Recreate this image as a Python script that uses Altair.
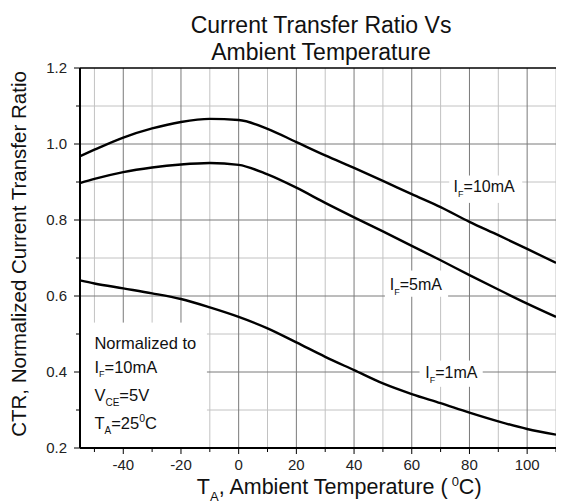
import altair as alt
import pandas as pd

FONT = "Liberation Sans"

# ---- data ----
temps = [-55, -50, -40, -30, -20, -10, 0, 10, 20, 30, 40, 50, 60, 70, 80, 90, 100, 110]
ctr_10mA = [0.968, 0.985, 1.017, 1.041, 1.058, 1.066, 1.063, 1.040, 1.005, 0.970, 0.937, 0.903,
            0.868, 0.834, 0.795, 0.760, 0.724, 0.687]
ctr_5mA = [0.897, 0.908, 0.926, 0.938, 0.946, 0.950, 0.945, 0.920, 0.885, 0.845, 0.807, 0.770,
           0.732, 0.694, 0.655, 0.617, 0.580, 0.545]
ctr_1mA = [0.641, 0.633, 0.620, 0.607, 0.592, 0.570, 0.545, 0.515, 0.478, 0.440, 0.405, 0.370,
           0.342, 0.318, 0.293, 0.270, 0.250, 0.235]

x_domain = [-55, 110]
y_domain = [0.2, 1.2]
x_minor = [-50, -30, -10, 10, 30, 50, 70, 90, 110]
x_major = [-40, -20, 0, 20, 40, 60, 80, 100]
y_minor = [0.3, 0.5, 0.7, 0.9, 1.1]
y_major = [0.4, 0.6, 0.8, 1.0]
x_labels = ["-40", "-20", "0", "20", "40", "60", "80", "100"]
y_label_values = [0.2, 0.4, 0.6, 0.8, 1.0, 1.2]
y_labels = ["0.2", "0.4", "0.6", "0.8", "1.0", "1.2"]

# curve labels (I_F = ...)
curve_label_text = ["=10mA", "=5mA", "=1mA"]
curve_label_T = [74.5, 52.4, 64.7]
curve_label_v = [0.873, 0.617, 0.383]
# clear areas (gridlines are interrupted there) behind labels and the note block
box_T1 = [73.0, 50.7, 62.7, -55.0]
box_T2 = [98.3, 72.6, 84.6, -11.0]
box_v1 = [0.845, 0.598, 0.361, 0.2]
box_v2 = [0.917, 0.667, 0.430, 0.53]

# note block
note_T = -50.0
note_v = [0.461, 0.398, 0.325, 0.251]

WIDTH, HEIGHT = 476, 380
PX_T = (x_domain[1] - x_domain[0]) / WIDTH     # data units per pixel (x)
PX_V = (y_domain[1] - y_domain[0]) / HEIGHT    # data units per pixel (y)

xs = alt.Scale(domain=x_domain, nice=False, zero=False)
ys = alt.Scale(domain=y_domain, nice=False, zero=False)


def X(field):
    return alt.X(field, scale=xs, axis=None)


def Y(field):
    return alt.Y(field, scale=ys, axis=None)


W = {' ': 0.278, ',': 0.278, '(': 0.333, ')': 0.333, '=': 0.584, '0': 0.556, '1': 0.556,
     '2': 0.556, '5': 0.556, 'A': 0.667, 'C': 0.722, 'E': 0.667, 'F': 0.611, 'I': 0.278,
     'T': 0.611, 'V': 0.667, 'N': 0.722, 'm': 0.833, 'a': 0.556, 'b': 0.556, 'i': 0.222,
     'e': 0.556, 'n': 0.556, 't': 0.278, 'p': 0.556, 'r': 0.333, 'u': 0.556, 'o': 0.556,
     'l': 0.222, 'z': 0.5, 'd': 0.556}


def tw(s, size):
    return sum(W.get(c, 0.556) for c in s) * size


def rich(xv, yv, parts, color="#111"):
    layers = []
    off = 0.0
    for text, size, dy in parts:
        df = pd.DataFrame({"T": [xv], "v": [yv], "t": [text]})
        layers.append(
            alt.Chart(df).mark_text(align="left", baseline="alphabetic", fontSize=size,
                                    dx=off, dy=dy, font=FONT, color=color)
            .encode(x=X("T:Q"), y=Y("v:Q"), text="t:N")
        )
        off += tw(text, size)
    return layers


cut_boxes = list(zip(box_T1, box_T2, box_v1, box_v2))


def cut(segs, lo, hi):
    out = []
    for a, b in segs:
        if b <= lo or a >= hi:
            out.append((a, b))
        else:
            if a < lo:
                out.append((a, lo))
            if b > hi:
                out.append((hi, b))
    return out


def vgrid(vals, color):
    rows = []
    for t in vals:
        segs = [(y_domain[0], y_domain[1])]
        for t1, t2, b1, b2 in cut_boxes:
            if t1 <= t <= t2:
                segs = cut(segs, b1, b2)
        rows += [{"T": t, "v": a, "v2": b} for a, b in segs]
    return alt.Chart(pd.DataFrame(rows)).mark_rule(color=color, strokeWidth=1).encode(
        x=X("T:Q"), y=Y("v:Q"), y2="v2:Q")


def hgrid(vals, color):
    rows = []
    for v in vals:
        segs = [(x_domain[0], x_domain[1])]
        for t1, t2, b1, b2 in cut_boxes:
            if b1 <= v <= b2:
                segs = cut(segs, t1, t2)
        rows += [{"v": v, "T": a, "T2": b} for a, b in segs]
    return alt.Chart(pd.DataFrame(rows)).mark_rule(color=color, strokeWidth=1).encode(
        y=Y("v:Q"), x=X("T:Q"), x2="T2:Q")


def vrules(vals, v1, v2, color, width=1.0):
    df = pd.DataFrame({"T": vals, "v": [v1] * len(vals), "v2": [v2] * len(vals)})
    return alt.Chart(df).mark_rule(color=color, strokeWidth=width).encode(
        x=X("T:Q"), y=Y("v:Q"), y2="v2:Q")


def hrules(vals, t1, t2, color, width=1.0):
    df = pd.DataFrame({"v": vals, "T": [t1] * len(vals), "T2": [t2] * len(vals)})
    return alt.Chart(df).mark_rule(color=color, strokeWidth=width).encode(
        y=Y("v:Q"), x=X("T:Q"), x2="T2:Q")


MINOR = "#c2c2c2"
MAJOR = "#7a7a7a"

grid = [vgrid(x_minor, MINOR), hgrid(y_minor, MINOR), vgrid(x_major, MAJOR), hgrid(y_major, MAJOR)]

rows = []
for name, vals in [("10mA", ctr_10mA), ("5mA", ctr_5mA), ("1mA", ctr_1mA)]:
    for t, v in zip(temps, vals):
        rows.append({"T": t, "v": v, "series": name})
curves_df = pd.DataFrame(rows)

curves = alt.Chart(curves_df).mark_line(color="black", strokeWidth=2.4, interpolate="monotone").encode(
    x=X("T:Q"), y=Y("v:Q"), detail="series:N")

# hand-drawn axes: frame lines and ticks
axes = [
    hrules([y_domain[1]], x_domain[0], x_domain[1], "black", 1.5),          # top border
    vrules([x_domain[0]], y_domain[0], y_domain[1], "black", 2),            # left axis line
    hrules([y_domain[0]], x_domain[0], x_domain[1], "black", 2),            # bottom axis line
    vrules(x_major, y_domain[0], y_domain[0] - 6 * PX_V, "black"),
    vrules(x_minor, y_domain[0], y_domain[0] - 4 * PX_V, "black"),
    hrules(y_major + [0.2, 1.2], x_domain[0], x_domain[0] - 6 * PX_T, "black"),
    hrules(y_minor, x_domain[0], x_domain[0] - 4 * PX_T, "black"),
]

tick_labels = [
    alt.Chart(pd.DataFrame({"T": x_major, "v": [y_domain[0]] * len(x_major), "t": x_labels}))
    .mark_text(baseline="top", align="center", dy=10, fontSize=15, font=FONT, color="#222")
    .encode(x=X("T:Q"), y=Y("v:Q"), text="t:N"),
    alt.Chart(pd.DataFrame({"T": [x_domain[0]] * len(y_labels), "v": y_label_values, "t": y_labels}))
    .mark_text(baseline="middle", align="right", dx=-13, fontSize=15, font=FONT, color="#222")
    .encode(x=X("T:Q"), y=Y("v:Q"), text="t:N"),
    alt.Chart(pd.DataFrame({"T": [x_domain[0] - 54 * PX_T], "v": [y_domain[1] - 186 * PX_V],
                            "t": ["CTR, Normalized Current Transfer Ratio"]}))
    .mark_text(angle=270, baseline="alphabetic", align="center", fontSize=20.5, font=FONT, color="#111")
    .encode(x=X("T:Q"), y=Y("v:Q"), text="t:N"),
]

texts = []
for txt, t, v in zip(curve_label_text, curve_label_T, curve_label_v):
    texts += rich(t, v, [("I", 16, 0), ("F", 9, 5), (txt, 16, 0)])

NS = 16.5
texts += rich(note_T, note_v[0], [("Normalized to", NS, 0)])
texts += rich(note_T, note_v[1], [("I", NS, 0), ("F", 9, 4), ("=10mA", NS, 0)])
texts += rich(note_T, note_v[2], [("V", NS, 0), ("CE", 10, 5), ("=5V", NS, 0)])
texts += rich(note_T, note_v[3], [("T", NS, 0), ("A", 10, 5), ("=25", NS, 0), ("0", 10.5, -7), ("C", NS, 0)])

# x-axis title with subscript / superscript
texts += rich(-14.5, 0.079, [("T", 21.5, 0), ("A", 13, 7), (", Ambient Temperature (", 21.5, 0),
                              ("0", 13, -8), ("C)", 21.5, 0)])

chart = alt.layer(*grid, curves, *axes, *tick_labels, *texts).properties(
    width=WIDTH, height=HEIGHT,
    autosize=alt.AutoSizeParams(type="none"),
    padding={"left": 72, "top": 60, "right": 0, "bottom": 55},
    title=alt.TitleParams(["Current Transfer Ratio Vs", "Ambient Temperature"], fontSize=23,
                          font=FONT, fontWeight="normal", color="#111", lineHeight=27,
                          anchor="middle", frame="group", offset=1, dx=3, dy=5),
).configure_view(stroke=None)

chart.save("out.html", embed_options={"renderer": "svg", "actions": False})
